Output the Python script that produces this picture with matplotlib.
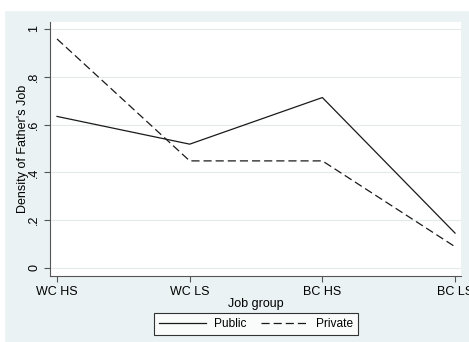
import matplotlib.pyplot as plt
from matplotlib.lines import Line2D

# Density of father's job by job group, public vs private sector
groups = ['WC HS', 'WC LS', 'BC HS', 'BC LS']
public = [0.634, 0.518, 0.713, 0.146]
private = [0.958, 0.448, 0.448, 0.089]
yticks = [0, 0.2, 0.4, 0.6, 0.8, 1]
ylabels = ['0', '.2', '.4', '.6', '.8', '1']

bg = '#eaf2f3'
plt.rcParams['font.family'] = ['Liberation Sans', 'DejaVu Sans']

fig = plt.figure(figsize=(4.69, 3.42), dpi=100)
fig.patch.set_facecolor(bg)
# white margin on top and left edge
fig.patches.append(plt.Rectangle((0, 1 - 10 / 342), 1, 10 / 342, transform=fig.transFigure,
                                 color='white', zorder=0))
fig.patches.append(plt.Rectangle((0, 0), 4 / 469, 1, transform=fig.transFigure,
                                 color='white', zorder=0))

ax = fig.add_axes([50 / 469, 66 / 342, 411 / 469, 254 / 342])
ax.set_facecolor('white')
x = range(len(groups))
ax.plot(x, public, color='#1a1a1a', lw=0.9)
ax.plot(x, private, color='#1a1a1a', lw=0.9, dashes=(6.5, 3.2))

ax.set_xlim(-0.053, 3.045)
ax.set_ylim(-0.0335, 1.029)
ax.set_xticks(list(x))
ax.set_xticklabels(groups, fontsize=9)
ax.set_yticks(yticks)
ax.set_yticklabels(ylabels, fontsize=9, rotation=90, va='center')
ax.grid(axis='y', color='#e4eaec', lw=0.8)
ax.set_axisbelow(True)

for s in ['top', 'right']:
    ax.spines[s].set_visible(False)
for s in ['left', 'bottom']:
    ax.spines[s].set_color('#555555')
    ax.spines[s].set_linewidth(0.8)
ax.tick_params(colors='#555555', labelcolor='black', length=4, width=0.8, pad=3)

ax.set_xlabel('Job group', fontsize=9, labelpad=0)
ax.set_ylabel("Density of Father's Job", fontsize=9)
ax.yaxis.set_label_coords(-0.05, 0.5)

handles = [Line2D([], [], color='#1a1a1a', lw=0.9),
           Line2D([], [], color='#1a1a1a', lw=0.9, dashes=(6.5, 3.2))]
leg = fig.legend(handles, ['Public', 'Private'], loc='center',
                 bbox_to_anchor=(256 / 469, 1 - 324 / 342), ncol=2, fontsize=8.6,
                 frameon=True, fancybox=False, handlelength=3.9, handletextpad=0.7,
                 columnspacing=1.2, borderpad=0.4, borderaxespad=0)
leg.get_frame().set_edgecolor('black')
leg.get_frame().set_linewidth(0.8)
leg.get_frame().set_facecolor('white')

fig.savefig('out.png', dpi=100, facecolor=bg)
